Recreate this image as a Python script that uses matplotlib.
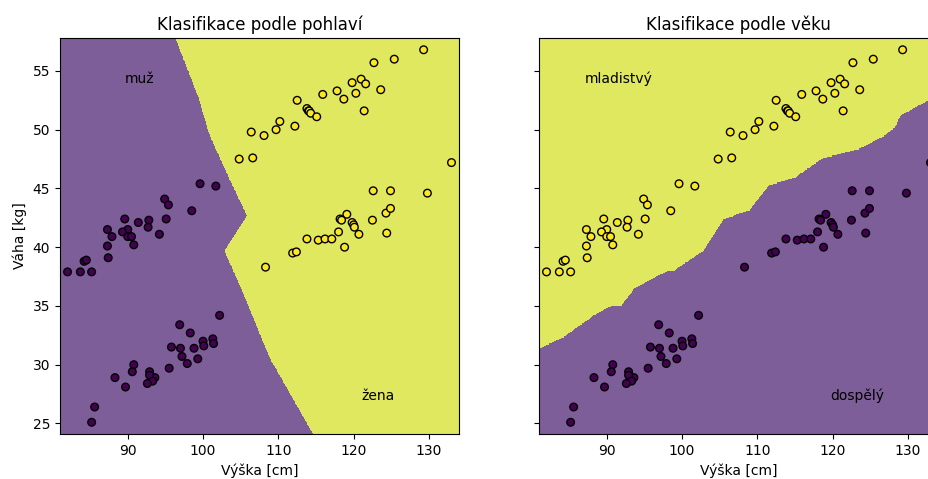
import numpy as np
import matplotlib
matplotlib.use("Agg")
import matplotlib.pyplot as plt
from matplotlib.colors import ListedColormap

# muž, mladistvý
c_x = [99.6, 101.7, 94.9, 95.4, 98.5, 95.1, 89.6, 91.4, 92.8, 92.7, 87.3, 90.0, 89.3,
       87.9, 90.0, 90.5, 94.2, 87.3, 90.8, 87.4, 84.2, 84.5, 82.0, 83.7, 85.2]
c_y = [45.4, 45.2, 44.1, 43.6, 43.1, 42.4, 42.4, 42.1, 42.3, 41.7, 41.5, 41.5, 41.3,
       40.9, 40.9, 40.9, 41.1, 40.1, 40.2, 39.1, 38.8, 38.9, 37.9, 37.9, 37.9]
# muž, dospělý
d_x = [102.2, 96.9, 98.3, 95.8, 97.0, 100.0, 101.3, 101.4, 100.1, 98.8, 97.2, 99.3, 97.9,
       95.5, 90.8, 90.6, 92.9, 93.6, 92.9, 93.3, 92.6, 88.3, 89.7, 85.6, 85.2]
d_y = [34.2, 33.4, 32.7, 31.5, 31.4, 32.0, 32.2, 31.8, 31.6, 31.4, 30.7, 30.5, 30.1,
       29.7, 30.0, 29.4, 29.4, 28.9, 29.1, 28.6, 28.4, 28.9, 28.1, 26.4, 25.1]
# žena, mladistvý
a_x = [129.3, 122.7, 125.4, 119.8, 121.0, 121.6, 117.8, 120.3, 123.6, 118.7, 115.9, 112.5,
       121.4, 113.8, 114.0, 114.1, 114.3, 115.1, 110.2, 109.7, 112.2, 108.1, 106.4, 104.8, 106.6]
a_y = [56.8, 55.7, 56.0, 54.0, 54.3, 53.9, 53.3, 53.1, 53.4, 52.6, 53.0, 52.5,
       51.6, 51.8, 51.6, 51.6, 51.4, 51.1, 50.7, 50.0, 50.3, 49.5, 49.8, 47.5, 47.6]
# žena, dospělý
b_x = [122.6, 124.9, 129.8, 124.3, 124.9, 122.5, 119.1, 118.2, 118.4, 119.8, 120.0, 120.1,
       120.7, 124.4, 118.0, 113.8, 115.3, 116.2, 117.1, 118.8, 111.9, 112.4, 108.3, 133.0]
b_y = [44.8, 44.8, 44.6, 42.9, 43.3, 42.3, 42.8, 42.4, 42.3, 42.1, 41.9, 41.7,
       41.1, 41.2, 41.3, 40.7, 40.6, 40.7, 40.7, 40.0, 39.5, 39.6, 38.3, 47.2]

vyska = np.array(c_x + d_x + a_x + b_x)
vaha = np.array(c_y + d_y + a_y + b_y)
pohlavi = np.array([0] * len(c_x) + [0] * len(d_x) + [1] * len(a_x) + [1] * len(b_x))  # 0 muž, 1 žena
vek = np.array([1] * len(c_x) + [0] * len(d_x) + [1] * len(a_x) + [0] * len(b_x))  # 1 mladistvý, 0 dospělý

# hranice rozhodnutí
hranice_pohlavi_y = [24.1, 30.5, 36.4, 39.7, 42.7, 46.2, 49.6, 52.7, 57.8]
hranice_pohlavi_x = [114.7, 109.0, 105.2, 102.9, 105.9, 103.3, 100.9, 99.5, 96.4]
hranice_vek_x = [81.0, 84.2, 88.4, 90.4, 91.9, 93.7, 98.3, 99.0, 102.7, 105.4, 108.9,
                 111.5, 115.0, 118.6, 123.4, 126.5, 128.2, 128.9, 132.5, 134.0]
hranice_vek_y = [31.4, 32.4, 34.3, 35.0, 35.1, 36.6, 38.1, 38.1, 39.7, 42.4, 43.2,
                 45.3, 46.0, 47.6, 48.4, 49.4, 50.2, 51.2, 52.5, 53.0]

xx, yy = np.meshgrid(np.arange(vyska.min() - 1, vyska.max() + 1, 0.1),
                     np.arange(vaha.min() - 1, vaha.max() + 1, 0.1))
Z_pohlavi = (xx > np.interp(yy, hranice_pohlavi_y, hranice_pohlavi_x)).astype(int)
Z_vek = (yy > np.interp(xx, hranice_vek_x, hranice_vek_y)).astype(int)

oblasti = ListedColormap(["#7d5e99", "#dfe85e"])

fig, (ax1, ax2) = plt.subplots(1, 2, sharey=True, figsize=(9.29, 4.79), dpi=100)
ax1.set_position([0.0646, 0.0939, 0.4295, 0.8267])
ax2.set_position([0.5802, 0.0939, 0.4295, 0.8267])

ax1.contourf(xx, yy, Z_pohlavi, levels=[-0.5, 0.5, 1.5], cmap=oblasti)
ax1.scatter(vyska, vaha, c=pohlavi, cmap="viridis", vmin=0, vmax=1, s=30, edgecolors="k")
ax1.text(91.6, 54.3, "muž", ha="center", va="center", fontsize=10)
ax1.text(123.2, 27.35, "žena", ha="center", va="center", fontsize=10)
ax1.set_title("Klasifikace podle pohlaví")
ax1.set_xlabel("Výška [cm]")
ax1.set_ylabel("Váha [kg]")

ax2.contourf(xx, yy, Z_vek, levels=[-0.5, 0.5, 1.5], cmap=oblasti)
ax2.scatter(vyska, vaha, c=vek, cmap="viridis", vmin=0, vmax=1, s=30, edgecolors="k")
ax2.text(91.6, 54.3, "mladistvý", ha="center", va="center", fontsize=10)
ax2.text(123.3, 27.35, "dospělý", ha="center", va="center", fontsize=10)
ax2.set_title("Klasifikace podle věku")
ax2.set_xlabel("Výška [cm]")

for ax in (ax1, ax2):
    ax.set_xlim(vyska.min() - 1, vyska.max() + 1)
    ax.set_ylim(vaha.min() - 1, vaha.max() + 1)

fig.savefig("out.png", dpi=100)
